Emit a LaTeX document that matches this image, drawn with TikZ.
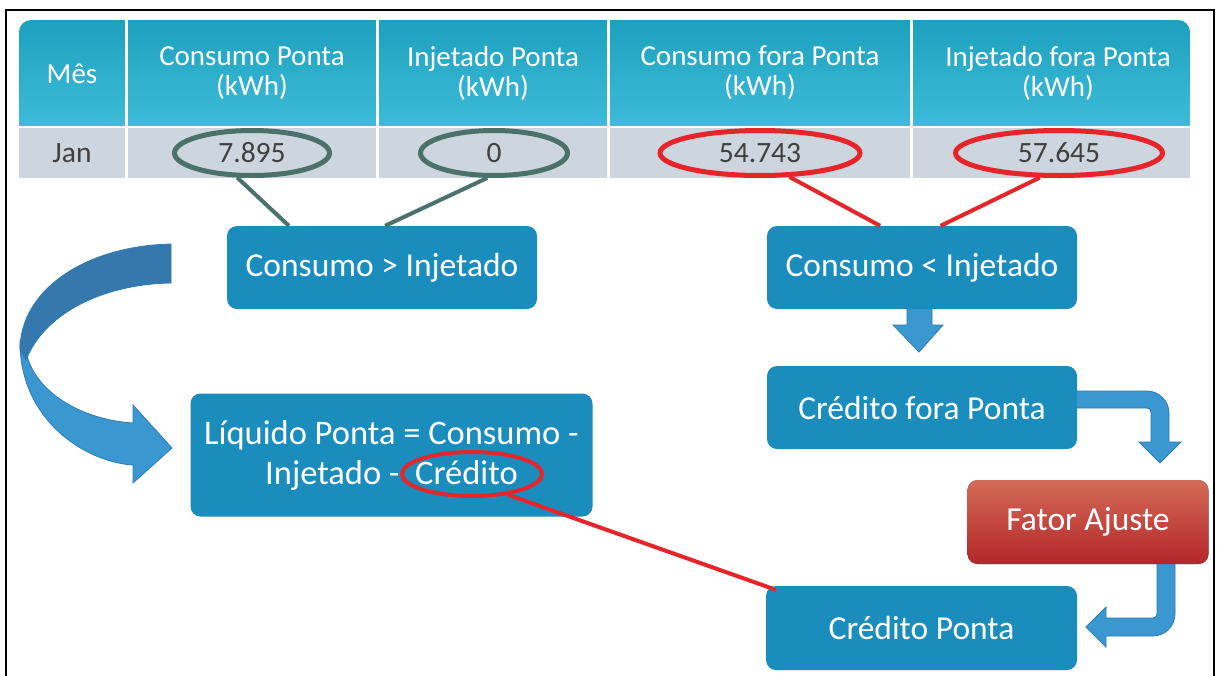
\documentclass[tikz,border=0pt]{standalone}
\usepackage{fontspec}
\setmainfont{Carlito}
\usetikzlibrary{shapes.geometric,calc}
\definecolor{hdtop}{HTML}{1DA1BE}
\definecolor{hdbot}{HTML}{3DBBD8}
\definecolor{rowgray}{HTML}{CDD5DE}
\definecolor{cellgray}{HTML}{404040}
\definecolor{boxblue}{HTML}{1A8DBD}
\definecolor{ovgreen}{HTML}{4B716B}
\definecolor{ovred}{HTML}{E8242B}
\definecolor{arrblue}{HTML}{3A97D0}
\definecolor{arrdark}{HTML}{3478AE}
\definecolor{arredge}{HTML}{2D7DB5}
\definecolor{fattop}{HTML}{D26B56}
\definecolor{fatbot}{HTML}{B5262B}
\begin{document}
\begin{tikzpicture}[x=1pt,y=-1pt,
  bluebox/.style={fill=boxblue, rounded corners=10pt, text=white, font=\fontsize{33.5}{40}\selectfont, inner sep=0pt, align=center},
  hdr/.style={text=white, font=\fontsize{29}{30}\selectfont, align=center},
  cell/.style={text=cellgray, font=\fontsize{29.5}{30}\selectfont},
  ovgreenst/.style={ellipse, draw=ovgreen, line width=5pt, inner sep=0pt, text=cellgray, font=\fontsize{29.5}{30}\selectfont},
  ovredst/.style={ellipse, draw=ovred, line width=5pt, inner sep=0pt, text=cellgray, font=\fontsize{29.5}{30}\selectfont},
  greenline/.style={draw=ovgreen, line width=4pt},
  redline/.style={draw=ovred, line width=4pt},
  blockarrow/.style={fill=arrblue, draw=arredge, line width=0.8pt, line join=miter}
]
\useasboundingbox (0,0) rectangle (1218,675);
\fill[white] (0,0) rectangle (1218,675);
% frame
\draw[line width=2.5pt] (6,680) -- (6,10) -- (1214,10) -- (1214,680);
% table header
\begin{scope}
\clip[rounded corners=12pt] (19,20) rectangle (1190,200);
\shade[top color=hdtop, bottom color=hdbot] (19,20) rectangle (1190,125);
\end{scope}
\fill[rowgray] (19,128) rectangle (1190,178);
\foreach \xx in {126,377.5,608.5,911.5} \draw[white, line width=3pt] (\xx,18) -- (\xx,180);
\node[hdr] (h0) at (72,74) {Mês};
\node[hdr] (h1) at (252,73) {Consumo Ponta\\(kWh)};
\node[hdr] (h2) at (493,73) {Injetado Ponta\\(kWh)};
\node[hdr] (h3) at (760,73) {Consumo fora Ponta\\(kWh)};
\node[hdr] (h4) at (1058,73) {Injetado fora Ponta\\(kWh)};
\node[cell] (jan) at (72,153) {Jan};
\node[ovgreenst, minimum width=155pt, minimum height=45pt] (e1) at (252,153) {7.895};
\node[ovgreenst, minimum width=147pt, minimum height=45pt] (e2) at (494,153) {0};
\node[ovredst, minimum width=200pt, minimum height=45pt] (e3) at (760,153) {54.743};
\node[ovredst, minimum width=207pt, minimum height=45pt] (e4) at (1059,153) {57.645};
% curved arrow (left)
\path[fill=arrblue, draw=arredge, line width=0.8pt, line join=miter]
  (20,342) .. controls (20,420) and (85,462) .. (133,465) -- (133,483) -- (172,448) -- (133,405) -- (133,423)
  .. controls (85,420) and (38,395) .. (27,356) -- cycle;
\path[fill=arrdark, draw=arredge, line width=0.8pt]
  (171,244) .. controls (85,246) and (20,290) .. (20,350) -- (26,360)
  .. controls (45,312) and (105,284) .. (171,283) -- cycle;
% block arrows right
\path[blockarrow] (1070,391) -- (1147,391) .. controls (1159,391) and (1169,401) .. (1169,413) -- (1169,442) -- (1181,442) -- (1160,463) -- (1139,442) -- (1151,442) -- (1151,412) .. controls (1151,410) and (1149,408) .. (1147,408) -- (1070,408) -- cycle;
\path[blockarrow] (1157,555) -- (1175,555) -- (1175,614) .. controls (1175,626) and (1165,636) .. (1153,636) -- (1106,636) -- (1106,647) -- (1086,627) -- (1106,607) -- (1106,618) -- (1153,618) .. controls (1155,618) and (1157,616) .. (1157,614) -- cycle;
\path[blockarrow] (907,305) -- (932,305) -- (932,325) -- (943,325) -- (919,352) -- (893,325) -- (907,325) -- cycle;
% boxes
\node[bluebox, minimum width=310pt, minimum height=83pt] (b1) at (382,267.5) {Consumo > Injetado};
\node[bluebox, minimum width=310pt, minimum height=83pt] (b2) at (922,267.5) {Consumo < Injetado};
\node[bluebox, minimum width=310pt, minimum height=83pt] (cf) at (922,407.5) {Crédito fora Ponta};
\node[bluebox, font=\fontsize{34.5}{40}\selectfont, minimum width=402pt, minimum height=123pt] (lp) at (391.5,455) {Líquido Ponta = Consumo -\\Injetado -\ \ Crédito};
\node[bluebox, top color=fattop, bottom color=fatbot, minimum width=241pt, minimum height=84pt] (fa) at (1088,522) {Fator Ajuste};
\node[bluebox, minimum width=311pt, minimum height=84pt] (cp) at (921.5,628) {Crédito Ponta};
\node[ellipse, draw=ovred, line width=4pt, minimum width=140pt, minimum height=44pt, inner sep=0pt] (cr) at (472,474) {};
% connectors
\draw[greenline] (e1.-121) -- ($(b1.north west)!0.2!(b1.north east)$);
\draw[greenline] (e2.-105) -- ($(b1.north west)!0.51!(b1.north east)$);
\draw[redline] (e3.-39) -- ($(b2.north west)!0.365!(b2.north east)$);
\draw[redline] (e4.-128) -- ($(b2.north west)!0.56!(b2.north east)$);
\draw[redline] (cr.-30) -- ($(cp.north west)+(10,4)$);
\end{tikzpicture}
\end{document}
